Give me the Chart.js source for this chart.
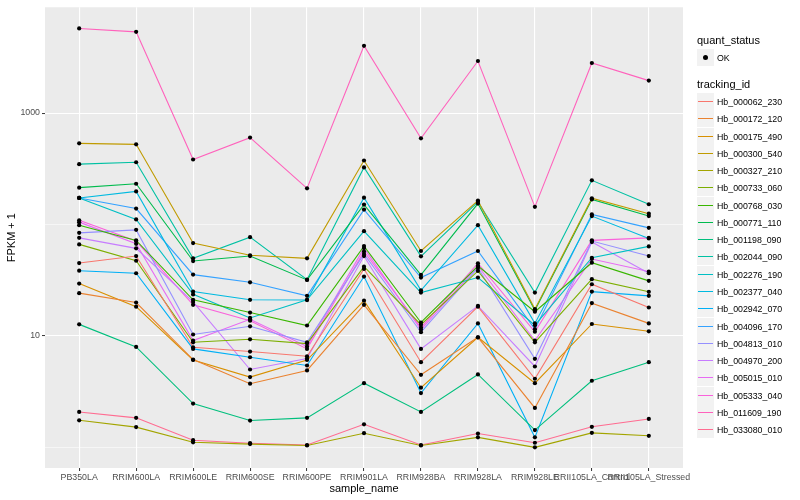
<!DOCTYPE html>
<html><head><meta charset="utf-8">
<script src="https://cdn.jsdelivr.net/npm/chart.js@4/dist/chart.umd.min.js"></script>
<style>
html,body{margin:0;padding:0;background:#fff;}
#wrap{position:relative;width:800px;height:500px;font-family:"Liberation Sans",Arial,sans-serif;}
#legend{position:absolute;left:0;top:0;width:800px;height:500px;pointer-events:none;}
.lg-title{position:absolute;font-size:11px;color:#000;line-height:13px;white-space:nowrap;}
.lg-key{position:absolute;width:17px;height:17px;background:#F2F2F2;}
.lg-text{position:absolute;font-size:8.8px;color:#000;line-height:10px;white-space:nowrap;}
</style></head><body>
<div id="wrap"><canvas id="c" width="800" height="500"></canvas><div id="legend"></div></div>
<script>
// ---- data (FPKM + 1) ----
const categories = ["PB350LA","RRIM600LA","RRIM600LE","RRIM600SE","RRIM600PE","RRIM901LA","RRIM928BA","RRIM928LA","RRIM928LE","RRII105LA_Control","RRII105LA_Stressed"];
const trackingIds = ["Hb_000062_230","Hb_000172_120","Hb_000175_490","Hb_000300_540","Hb_000327_210","Hb_000733_060","Hb_000768_030","Hb_000771_110","Hb_001198_090","Hb_002044_090","Hb_002276_190","Hb_002377_040","Hb_002942_070","Hb_004096_170","Hb_004813_010","Hb_004970_200","Hb_005015_010","Hb_005333_040","Hb_011609_190","Hb_033080_010"];
const quantStatus = ["OK"];
const yTickValues = [1, 10, 100, 1000];
const yTickLabels = {10: "10", 1000: "1000"};

const hb_000062_230 = [45.1, 52.1, 7.91, 7.24, 6.57, 39.9, 5.81, 18.3, 4.13, 29.1, 18.0];
const hb_000172_120 = [24.2, 19.95, 6.14, 3.73, 4.90, 19.0, 4.48, 9.72, 2.26, 19.7, 12.96];
const hb_000175_490 = [29.5, 18.3, 6.08, 4.27, 6.08, 20.7, 3.43, 9.72, 3.77, 12.8, 11.0];
const hb_000300_540 = [535, 524, 68.1, 52.9, 49.7, 375, 57.8, 164, 17.4, 172, 125];
const hb_000327_210 = [1.75, 1.52, 1.11, 1.07, 1.04, 1.34, 1.04, 1.23, 1.00, 1.35, 1.27];
const hb_000733_060 = [66.3, 47.3, 8.77, 9.33, 8.54, 41.8, 12.6, 38.3, 8.77, 32.3, 24.9];
const hb_000768_030 = [98.6, 72.0, 21.1, 16.2, 12.4, 64.0, 13.2, 42.4, 16.5, 45.4, 31.2];
const hb_000771_110 = [214, 232, 47.0, 52.1, 31.8, 151, 35.3, 154, 17.0, 168, 119];
const hb_001198_090 = [12.7, 7.97, 2.47, 1.74, 1.84, 3.77, 2.08, 4.51, 1.43, 3.96, 5.81];
const hb_002044_090 = [348, 362, 49.7, 77.0, 32.0, 325, 51.8, 160, 24.5, 249, 152];
const hb_002276_190 = [173, 111, 23.6, 14.5, 21.1, 87.1, 24.5, 33.4, 12.5, 50.3, 63.6];
const hb_002377_040 = [173, 198, 25.0, 21.1, 21.0, 174, 25.7, 98.6, 12.96, 119, 75.0];
const hb_002942_070 = [38.5, 36.5, 7.65, 6.44, 5.43, 34.1, 3.07, 12.96, 1.23, 25.0, 22.9];
const hb_004096_170 = [173, 139, 35.5, 30.3, 22.9, 136, 33.4, 57.8, 11.5, 123, 93.3];
const hb_004813_010 = [84.1, 89.5, 10.3, 12.2, 8.77, 54.3, 10.8, 40.7, 6.23, 71.0, 52.1];
const hb_004970_200 = [75.9, 61.1, 20.2, 5.00, 6.27, 52.1, 7.65, 18.6, 5.32, 69.5, 36.5];
const hb_005015_010 = [105, 67.1, 9.08, 14.1, 8.02, 61.4, 11.4, 42.4, 9.08, 49.0, 37.8];
const hb_005333_040 = [109, 71.0, 19.0, 13.7, 7.65, 57.2, 11.9, 44.9, 10.9, 72.0, 75.9];
const hb_011609_190 = [5741, 5353, 383, 602, 211, 4015, 593, 2931, 144, 2813, 1955];
const hb_033080_010 = [2.08, 1.84, 1.16, 1.09, 1.05, 1.61, 1.05, 1.33, 1.10, 1.53, 1.80];

const seriesValues = [hb_000062_230, hb_000172_120, hb_000175_490, hb_000300_540, hb_000327_210, hb_000733_060, hb_000768_030, hb_000771_110, hb_001198_090, hb_002044_090, hb_002276_190, hb_002377_040, hb_002942_070, hb_004096_170, hb_004813_010, hb_004970_200, hb_005015_010, hb_005333_040, hb_011609_190, hb_033080_010];

// ---- styles ----
const palette = ["#F8766D","#EA8331","#D89000","#C09B00","#A3A500","#7CAE00","#39B600","#00BB4E","#00BF7D","#00C1A3","#00BFC4","#00BAE0","#00B0F6","#35A2FF","#9590FF","#C77CFF","#E76BF3","#FA62DB","#FF62BC","#FF6C91"];
const FONT = '"Liberation Sans", Arial, sans-serif';

const lineDatasets = seriesValues.map((arr, k) => ({
  label: trackingIds[k],
  data: arr.map((v, i) => ({x: i, y: v})),
  borderColor: palette[k],
  backgroundColor: palette[k],
  borderWidth: 1.1,
  pointRadius: 0,
  tension: 0,
  fill: false,
  order: 2
}));
const pointDataset = {
  label: quantStatus[0],
  data: seriesValues.flatMap(arr => arr.map((v, i) => ({x: i, y: v}))),
  showLine: false,
  pointRadius: 2.1,
  pointBackgroundColor: "#000",
  pointBorderWidth: 0,
  order: 1
};

const panelBg = {
  id: 'panelBg',
  beforeDraw(chart) {
    const {ctx, chartArea: a} = chart;
    ctx.save();
    ctx.fillStyle = '#EBEBEB';
    ctx.fillRect(a.left, a.top, a.right - a.left, a.bottom - a.top);
    ctx.restore();
  }
};

const isMajorY = v => Object.prototype.hasOwnProperty.call(yTickLabels, v);

new Chart(document.getElementById('c'), {
  type: 'line',
  data: {datasets: [...lineDatasets, pointDataset]},
  options: {
    responsive: false,
    animation: false,
    devicePixelRatio: 1,
    layout: {padding: {left: 0, top: 4, right: 117, bottom: 0}},
    plugins: {legend: {display: false}, tooltip: {enabled: false}},
    scales: {
      x: {
        type: 'linear',
        min: -0.6, max: 10.6,
        afterBuildTicks: s => { s.ticks = categories.map((c, i) => ({value: i})); },
        afterFit: s => { s.height = 32; },
        border: {display: false},
        grid: {color: '#FFFFFF', lineWidth: 1.1, tickColor: '#333333', tickLength: 3, tickWidth: 1},
        ticks: {
          autoSkip: false, maxRotation: 0, minRotation: 0, padding: 1,
          color: '#4D4D4D', font: {family: FONT, size: 8.8},
          callback: v => categories[v]
        },
        title: {display: true, text: 'sample_name', color: '#000', font: {family: FONT, size: 11}, padding: {top: 0, bottom: 4}}
      },
      y: {
        type: 'logarithmic',
        min: 0.653, max: 8895,
        afterBuildTicks: s => { s.ticks = yTickValues.map(v => ({value: v})); },
        afterFit: s => { s.width = 45; },
        border: {display: false},
        grid: {
          color: '#FFFFFF',
          lineWidth: c => (c.tick && isMajorY(c.tick.value)) ? 1.1 : 0.55,
          tickColor: c => (c.tick && isMajorY(c.tick.value)) ? '#333333' : 'rgba(0,0,0,0)',
          tickLength: 3, tickWidth: 1
        },
        ticks: {
          autoSkip: false, padding: 2,
          color: '#4D4D4D', font: {family: FONT, size: 8.8},
          callback: v => yTickLabels[v] || ''
        },
        title: {display: true, text: 'FPKM + 1', color: '#000', font: {family: FONT, size: 11}, padding: {top: 5, bottom: 0}}
      }
    }
  },
  plugins: [panelBg]
});

// ---- legend (HTML, built from the arrays) ----
const lg = document.getElementById('legend');
function add(cls, left, top, text) {
  const d = document.createElement('div');
  d.className = cls; d.style.left = left + 'px'; d.style.top = top + 'px';
  if (text !== undefined) d.textContent = text;
  lg.appendChild(d); return d;
}
add('lg-title', 697, 34, 'quant_status');
quantStatus.forEach((q, i) => {
  const top = 49 + i * 17;
  const key = add('lg-key', 697, top);
  const dot = document.createElement('div');
  dot.style.cssText = 'position:absolute;left:6px;top:6px;width:5px;height:5px;border-radius:50%;background:#000;';
  key.appendChild(dot);
  add('lg-text', 717, top + 4, q);
});
add('lg-title', 697, 78, 'tracking_id');
trackingIds.forEach((id, i) => {
  const top = Math.round(93 + i * 17.27);
  const key = add('lg-key', 697, top);
  const ln = document.createElement('div');
  ln.style.cssText = 'position:absolute;left:1px;top:8px;width:15px;height:1px;background:' + palette[i] + ';';
  key.appendChild(ln);
  add('lg-text', 717, top + 4, id);
});
</script>
</body></html>
